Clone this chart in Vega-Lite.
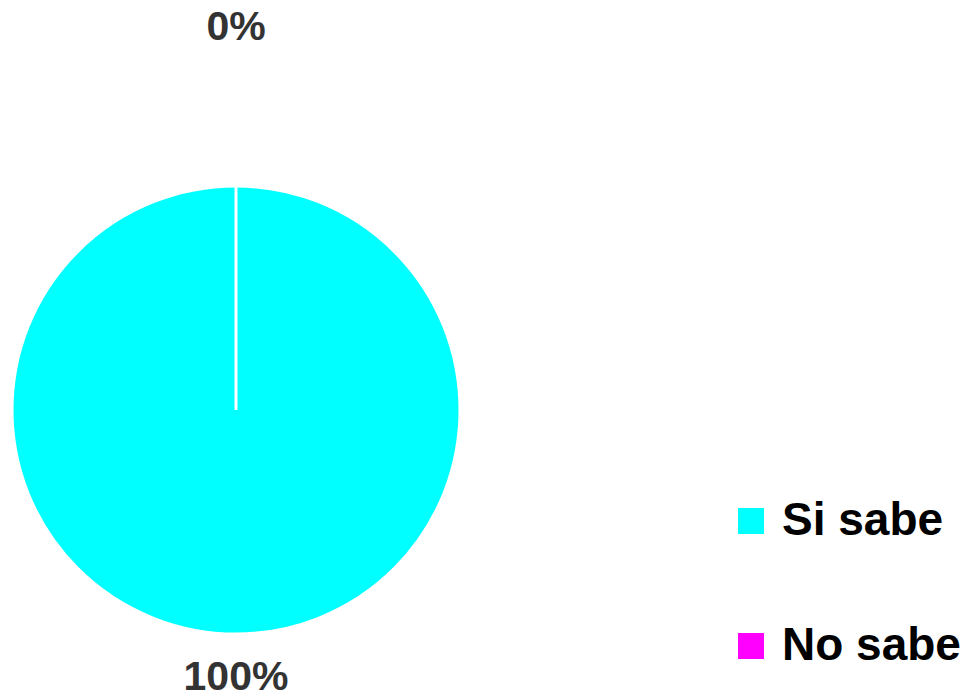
{
  "$schema": "https://vega.github.io/schema/vega-lite/v6.json",
  "autosize": "none",
  "width": 472,
  "height": 578,
  "padding": {"left": 0, "top": 121, "right": 495, "bottom": 0},
  "background": "white",
  "config": {"view": {"stroke": null}, "font": "Liberation Sans"},
  "data": {
    "values": [
      {"respuesta": "Si sabe", "porcentaje": 1.0},
      {"respuesta": "No sabe", "porcentaje": 0.0}
    ]
  },
  "encoding": {
    "theta": {"field": "porcentaje", "type": "quantitative", "stack": true},
    "order": {"field": "porcentaje", "type": "quantitative", "sort": "descending"},
    "color": {
      "field": "respuesta",
      "type": "nominal",
      "scale": {"domain": ["Si sabe", "No sabe"], "range": ["#00FFFF", "#FF00FF"]},
      "legend": {
        "title": null,
        "orient": "none",
        "legendX": 728,
        "legendY": 377,
        "padding": 0,
        "symbolType": "square",
        "symbolSize": 676,
        "symbolStrokeWidth": 0,
        "labelFont": "Liberation Sans",
        "labelFontSize": 46,
        "labelFontWeight": "bold",
        "labelColor": "#000000",
        "labelOffset": 8,
        "rowPadding": 79,
        "labelLimit": 400
      }
    }
  },
  "layer": [
    {
      "mark": {"type": "arc", "outerRadius": 224, "stroke": "white", "strokeWidth": 3}
    },
    {
      "mark": {"type": "text", "font": "Liberation Sans", "fontSize": 41, "fontWeight": "bold", "align": "center", "baseline": "middle"},
      "encoding": {
        "text": {"field": "porcentaje", "type": "quantitative", "format": ".0%"},
        "radius": {"field": "porcentaje", "type": "quantitative", "scale": {"type": "linear", "domain": [0, 1], "range": [382, 268], "zero": false}},
        "color": {"value": "#333333"}
      }
    }
  ]
}
